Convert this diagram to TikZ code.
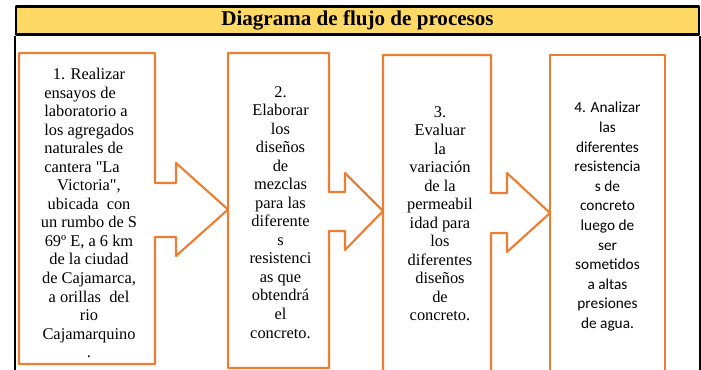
\documentclass[tikz,border=0pt]{standalone}
\usepackage{fontspec}
\setmainfont{Liberation Serif}[Ligatures=TeXOff]
\newfontfamily\calibri{Carlito}
\usetikzlibrary{positioning,calc}
\definecolor{naranja}{HTML}{ED7D31}
\definecolor{amarillo}{HTML}{FFD966}
\newlength{\px}
\setlength{\px}{0.75pt}
\newlength{\lw}
\setlength{\lw}{1.6pt}
\newcommand{\izq}[1]{\makebox[5.45em][l]{#1}}
\tikzstyle{every picture}+=[x=0.75pt, y=-0.75pt]
\tikzstyle{every picture}+=[line join=round]
\tikzstyle{caja}=[rectangle, inner sep=0pt, outer sep=0pt]
\tikzstyle{flecha}=[draw=naranja, line width=\lw]
\tikzstyle{marco}=[draw=black, line width=1.6pt]
\tikzstyle{titulo}+=[draw=black, fill=amarillo, line width=1.8pt]
\tikzstyle{titulo}+=[font=\fontsize{15.8}{18}\selectfont\bfseries]
\tikzstyle{texto}=[align=center, inner sep=0pt, font=\fontsize{12.3}{13.9}\selectfont]
\tikzstyle{textocal}=[texto, font=\calibri\fontsize{11.5}{14.7}\selectfont]

\begin{document}
\begin{tikzpicture}
\useasboundingbox (0,0) rectangle (701,369);
\node[titulo, minimum width=683\px, minimum height=25\px] (tit) at (357.5,20.5) {Diagrama de flujo de procesos};
\draw[marco] (tit.south west) -- ++(0,345);
\draw[marco] (tit.south east) -- ++(0,345);

\node[caja, minimum width=136\px, minimum height=311\px, anchor=north west] (s1) at (19,53) {};
\node[caja, minimum width=101\px, minimum height=315\px, right=73\px of s1.north east, anchor=north west] (s2) {};
\node[caja, minimum width=108\px, minimum height=320\px, right=54\px of s2.north east, anchor=north west, yshift=-2\px] (s3) {};
\node[caja, flecha, minimum width=115\px, minimum height=320\px, right=59\px of s3.north east, anchor=north west] (s4) {};

\draw[flecha] (s1.north west) -- (s1.north east) -- ++(0,130) -- ++(21,0) -- ++(0,-20)
  -- ($(s2.north west)+(0,156.5)$) -- ($(s1.north east)+(21,203)$) -- ++(0,-19) -- ++(-21,0)
  -- (s1.south east) -- (s1.south west) -- cycle;
\draw[flecha] (s2.north west) -- (s2.north east) -- ++(0,139) -- ++(16,0) -- ++(0,-19)
  -- ($(s3.north west)+(0,156)$) -- ($(s2.north east)+(16,197)$) -- ++(0,-19) -- ++(-16,0)
  -- (s2.south east) -- (s2.south west) -- cycle;
\draw[flecha] (s3.north west) -- (s3.north east) -- ++(0,138) -- ++(16,0) -- ++(0,-20)
  -- ($(s4.north west)+(0,158)$) -- ($(s3.north east)+(16,197)$) -- ++(0,-19) -- ++(-16,0)
  -- (s3.south east) -- (s3.south west) -- cycle;

\node[texto, below=15\px of s1.north, xshift=2\px] (t1) {1. Realizar\\ \izq{ensayos de}\\ \izq{laboratorio a}\\
  \izq{los agregados}\\ \izq{naturales de}\\ \izq{cantera "La}\\ Victoria",\\ ubicada \ con\\ un rumbo de S\\
  69º E, a 6 km\\ de la ciudad\\ de Cajamarca,\\ a orillas \ del\\ rio\\ Cajamarquino\\ .};
\node[texto, below=33\px of s2.north, xshift=2\px] (t2) {2.\\ Elaborar\\ los\\ diseños\\ de\\ mezclas\\ para las\\
  diferente\\ s\\ resistenci\\ as que\\ obtendrá\\ el\\ concreto.};
\node[texto, below=51\px of s3.north, xshift=3\px] (t3) {3.\\ Evaluar\\ la\\ variación\\ de la\\ permeabil\\
  idad para\\ los\\ diferentes\\ diseños\\ de\\ concreto.};
\node[textocal, below=47\px of s4.north] (t4) {4. Analizar\\ las\\ diferentes\\ resistencia\\ s de\\ concreto\\
  luego de\\ ser\\ sometidos\\ a altas\\ presiones\\ de agua.};
\end{tikzpicture}
\end{document}
